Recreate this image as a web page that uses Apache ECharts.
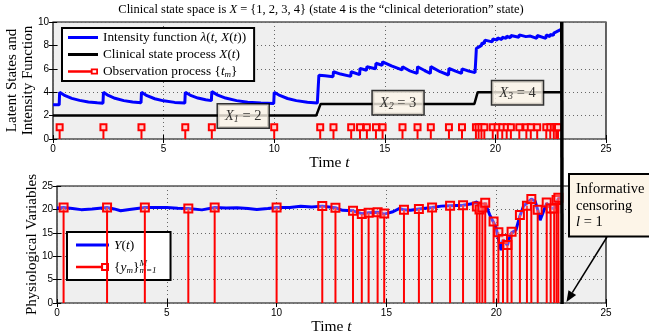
<!DOCTYPE html>
<html><head><meta charset="utf-8">
<script src="https://cdn.jsdelivr.net/npm/echarts@6/dist/echarts.min.js"></script>
<style>html,body{margin:0;padding:0;background:#fff}#c{width:649px;height:336px}</style>
</head><body><div id="c"></div>
<script>
// ---------------- data ----------------
const obsTimes = [0.3, 2.28, 4.0, 5.98, 7.18, 10.0, 12.08, 12.68, 13.48, 13.88, 14.19, 14.6, 14.9, 15.8, 16.48, 17.08, 17.9, 18.49, 19.12, 19.24, 19.37, 19.5, 19.88, 20.1, 20.31, 20.51, 20.7, 21.08, 21.4, 21.6, 21.89, 22.3, 22.48, 22.64, 22.75, 22.83];
const obsValues = [20.4, 20.4, 20.4, 20.2, 20.4, 20.4, 20.7, 20.35, 19.7, 19.0, 19.3, 19.4, 19.1, 19.9, 20.1, 20.4, 20.8, 20.9, 20.6, 20.0, 20.4, 21.4, 17.4, 15.1, 13.7, 12.4, 15.2, 18.8, 20.8, 22.2, 19.9, 21.5, 20.2, 20.2, 22.0, 22.5];
const obsMarkLevel = 1;

const intensityPoints = [
  [0,2.92],[0.28,2.92],[0.3,4.0],[0.55,3.7],[0.85,3.47],[1.2,3.3],[1.6,3.17],[2.0,3.09],[2.26,3.05],
  [2.28,4.0],[2.5,3.72],[2.8,3.48],[3.2,3.28],[3.6,3.16],[3.98,3.1],
  [4.0,4.0],[4.25,3.7],[4.6,3.44],[5.0,3.26],[5.5,3.13],[5.96,3.07],
  [5.98,4.0],[6.25,3.7],[6.55,3.5],[6.9,3.35],[7.16,3.28],
  [7.18,4.05],[7.45,3.75],[7.8,3.5],[8.3,3.28],[8.8,3.15],[9.4,3.07],[9.98,3.03],
  [10.0,4.0],[10.25,3.72],[10.6,3.46],[11.0,3.28],[11.5,3.14],[11.95,3.07],
  [12.02,5.45],[12.3,5.4],[12.66,5.33],[12.68,5.75],[13.0,5.55],[13.46,5.35],[13.48,5.75],[13.86,5.5],
  [13.88,6.04],[14.17,5.88],[14.19,6.18],[14.58,6.0],[14.6,6.47],[14.88,6.3],[14.9,6.6],[15.3,6.25],
  [15.78,5.9],[15.8,6.18],[16.1,5.85],[16.46,5.61],[16.48,6.18],[16.8,5.85],[17.06,5.61],[17.08,6.18],
  [17.5,5.75],[17.88,5.47],[17.9,6.04],[18.2,5.8],[18.47,5.61],[18.49,6.0],[18.8,5.8],[19.08,5.67],
  [19.14,7.75],[19.24,7.85],[19.26,8.0],[19.37,8.0],[19.39,8.2],[19.5,8.15],[19.52,8.45],[19.86,8.3],
  [19.88,8.55],[20.08,8.45],[20.1,8.65],[20.29,8.5],[20.31,8.7],[20.49,8.6],[20.51,8.8],[20.68,8.65],
  [20.7,8.85],[21.06,8.7],[21.08,8.9],[21.38,8.75],[21.4,8.9],[21.58,8.8],[21.6,8.92],[21.87,8.6],
  [21.89,8.85],[22.28,8.6],[22.3,8.9],[22.46,8.75],[22.48,8.95],[22.62,8.85],[22.64,9.05],[22.73,9.0],
  [22.75,9.15],[22.81,9.15],[22.83,9.3],[22.95,9.35]
];

const statePoints = [[0,2],[11.9,2],[12.1,3],[19.05,3],[19.2,4],[23,4]];

const physioPoints = [
  [0,20.3],[0.3,20.4],[0.7,20.2],[1.1,19.95],[1.6,20.1],[2.28,20.4],[2.6,20.1],[2.9,19.7],[3.3,20.0],
  [4.0,20.4],[4.3,20.4],[5.0,20.4],[5.5,20.25],[5.98,20.2],[6.6,19.9],[7.18,20.4],[7.7,20.3],[8.2,20.35],
  [8.7,20.2],[9.1,20.0],[9.6,20.2],[10.0,20.4],[10.6,20.4],[11.1,20.65],[11.6,20.5],[12.08,20.7],
  [12.68,20.35],[13.0,19.8],[13.48,19.7],[13.88,19.1],[14.19,19.3],[14.6,19.4],[14.9,19.0],[15.3,19.5],
  [15.6,20.2],[15.8,19.9],[16.1,19.8],[16.48,20.1],[17.08,20.4],[17.5,20.7],[17.9,20.8],[18.49,20.9],
  [18.9,21.2],[19.12,21.6],[19.24,20.3],[19.37,20.4],[19.5,21.3],[19.7,18.9],[19.88,17.2],[20.0,16.0],
  [20.15,12.5],[20.22,11.3],[20.31,13.5],[20.42,13.0],[20.51,12.3],[20.6,13.8],[20.7,15.0],[20.9,15.6],
  [21.08,18.6],[21.25,20.8],[21.4,21.3],[21.6,22.2],[21.77,21.8],[21.89,19.9],[22.0,17.7],[22.18,19.9],
  [22.3,21.3],[22.48,20.3],[22.64,20.2],[22.75,21.6],[22.83,22.3],[22.92,22.6]
];

const censorTime = 23;
const stateLabelT = [8.6, 15.6, 21.0];
const stateLabelV = [1.97, 3.1, 3.95];
const stateLabelSub = ['1', '2', '3'];
const stateLabelNum = ['2', '3', '4'];

const xTicks = [0, 5, 10, 15, 20, 25];
const yTicksTop = [0, 2, 4, 6, 8, 10];
const yTicksBottom = [0, 5, 10, 15, 20, 25];

// ---------------- styles ----------------
const SERIF = '"Liberation Serif", "DejaVu Serif", serif';
const SANS = '"Liberation Sans", Arial, sans-serif';
function richSet(size, lh) {
  return {
    i: {fontFamily: SERIF, fontStyle: 'italic', fontSize: size, color: '#000', lineHeight: lh},
    n: {fontFamily: SERIF, fontSize: size, color: '#000', lineHeight: lh},
    s: {fontFamily: SERIF, fontStyle: 'italic', fontSize: Math.round(size * 0.7), color: '#000', verticalAlign: 'bottom', lineHeight: Math.round(size * 0.7) + 1},
    sp: {fontFamily: SERIF, fontStyle: 'italic', fontSize: Math.round(size * 0.65), color: '#000', verticalAlign: 'top', lineHeight: Math.round(size * 0.65) + 1, width: 0},
    sb: {fontFamily: SERIF, fontStyle: 'italic', fontSize: Math.round(size * 0.65), color: '#000', verticalAlign: 'bottom', lineHeight: Math.round(size * 0.65) + 1}
  };
}

function stemRender(size, fill) {
  return function (params, api) {
    const t = api.value(0), v = api.value(1);
    const p0 = api.coord([t, 0]);
    const p1 = api.coord([t, v]);
    return {
      type: 'group',
      children: [
        {type: 'line', shape: {x1: p0[0], y1: p0[1], x2: p1[0], y2: p1[1]}, style: {stroke: '#ff0000', lineWidth: 2}},
        {type: 'rect', shape: {x: p1[0] - size / 2, y: p1[1] - size / 2, width: size, height: size}, style: {stroke: '#ff0000', lineWidth: 2, fill: fill}}
      ]
    };
  };
}

function mainX(grid) {
  return {
    gridIndex: grid, type: 'value', min: 0, max: 25, interval: 5, position: 'bottom',
    axisLine: {show: false},
    axisTick: {show: true, inside: true, length: 4, lineStyle: {color: '#000'}},
    axisLabel: {fontFamily: SANS, fontSize: 10, color: '#000', margin: 5,
      formatter: v => xTicks.includes(v) ? String(v) : ''},
    splitLine: {show: true, lineStyle: {color: '#666', type: [1, 3], width: 1}},
    name: 'Time {i|t}', nameLocation: 'middle', nameGap: 14,
    nameTextStyle: {fontFamily: SERIF, fontSize: 15.5, color: '#000', rich: richSet(15.5, 17)}
  };
}
function sideX(grid) {
  return {gridIndex: grid, type: 'value', min: 0, max: 25, interval: 5, position: 'top',
    axisLine: {show: false}, axisLabel: {show: false}, splitLine: {show: false},
    axisTick: {show: true, inside: true, length: 4, lineStyle: {color: '#000'}}};
}
function mainY(grid, max, interval, ticks, name, gap) {
  return {
    gridIndex: grid, type: 'value', min: 0, max: max, interval: interval, position: 'left',
    axisLine: {show: false},
    axisTick: {show: true, inside: true, length: 4, lineStyle: {color: '#000'}},
    axisLabel: {fontFamily: SANS, fontSize: 10, color: '#000', margin: 4,
      formatter: v => ticks.includes(v) ? String(v) : ''},
    splitLine: {show: true, lineStyle: {color: '#666', type: [1, 3], width: 1}},
    name: name, nameLocation: 'middle', nameRotate: 90, nameGap: gap, nameMoveOverlap: false,
    nameTextStyle: {fontFamily: SERIF, fontSize: 15, color: '#000', lineHeight: 16}
  };
}
function sideY(grid, max, interval) {
  return {gridIndex: grid, type: 'value', min: 0, max: max, interval: interval, position: 'right',
    axisLine: {show: false}, axisLabel: {show: false}, splitLine: {show: false},
    axisTick: {show: true, inside: true, length: 4, lineStyle: {color: '#000'}}};
}

const legendLabels = {
  'Intensity function': 'Intensity function {i|λ}({i|t}, {i|X}({i|t}))',
  'Clinical state process': 'Clinical state process {i|X}({i|t})',
  'Observation process': 'Observation process {{i|t}{s|m}}',
  'Y(t)': '{i|Y}({i|t})',
  'y_m': '{{i|y}{s|m}}{sp|M}{sb|m=1}'
};

const chart = echarts.init(document.getElementById('c'));
chart.setOption({
  animation: false,
  grid: [
    {left: 53, top: 22, width: 553, height: 117, show: true, backgroundColor: '#efefef', borderColor: '#000', borderWidth: 1.2, containLabel: false, outerBoundsMode: 'none'},
    {left: 57, top: 186, width: 549, height: 117, show: true, backgroundColor: '#efefef', borderColor: '#000', borderWidth: 1.2, containLabel: false, outerBoundsMode: 'none'}
  ],
  xAxis: [mainX(0), mainX(1), sideX(0), sideX(1)],
  yAxis: [
    mainY(0, 10, 2, yTicksTop, 'Latent States and\nIntensity Function', 17),
    mainY(1, 25, 5, yTicksBottom, 'Physiological Variables', 17),
    sideY(0, 10, 2), sideY(1, 25, 5)
  ],
  legend: [
    {
      orient: 'vertical', left: 62, top: 28, selectedMode: false,
      data: [
        {name: 'Intensity function', icon: 'path://M0,0H30V3H0Z'},
        {name: 'Clinical state process', icon: 'path://M0,0H30V3H0Z'},
        {name: 'Observation process', icon: 'path://M0,4H20V6H0Z M19,2.5H25V7.5H19Z M20.5,4V6H23.5V4Z'}
      ],
      itemWidth: 30, itemHeight: 12, itemGap: 2, padding: [2, 8, 2, 6],
      backgroundColor: '#fff', borderColor: '#000', borderWidth: 2,
      itemStyle: {borderWidth: 0},
      textStyle: {fontFamily: SERIF, fontSize: 13.3, color: '#000', lineHeight: 15, rich: richSet(13.3, 15)},
      formatter: n => legendLabels[n]
    },
    {
      orient: 'vertical', left: 67, top: 232, selectedMode: false,
      data: [
        {name: 'Y(t)', icon: 'path://M0,0H33V3H0Z'},
        {name: 'y_m', icon: 'path://M0,5H23V7H0Z M22,2.5H29V9.5H22Z M23.8,4.3V7.7H27.2V4.3Z'}
      ],
      itemWidth: 33, itemHeight: 12, itemGap: 6, padding: [5, 14, 5, 9],
      backgroundColor: '#fff', borderColor: '#000', borderWidth: 2,
      itemStyle: {borderWidth: 0},
      textStyle: {fontFamily: SERIF, fontSize: 13.5, color: '#000', lineHeight: 16, rich: richSet(13.5, 16)},
      formatter: n => legendLabels[n]
    }
  ],
  series: [
    {name: 'Clinical state process', type: 'line', xAxisIndex: 0, yAxisIndex: 0, data: statePoints,
      showSymbol: false, symbol: 'none', color: '#000', lineStyle: {color: '#000', width: 2.5}, z: 3},
    {name: 'Intensity function', type: 'line', xAxisIndex: 0, yAxisIndex: 0, data: intensityPoints,
      showSymbol: false, symbol: 'none', color: '#0000ff', lineStyle: {color: '#0000ff', width: 3}, z: 4},
    {name: 'Observation process', type: 'custom', xAxisIndex: 0, yAxisIndex: 0,
      data: obsTimes.map(t => [t, obsMarkLevel]), encode: {x: 0, y: 1},
      renderItem: stemRender(6, '#ffd0d0'), itemStyle: {color: '#ff0000'}, z: 5},
    {name: 'stateLabels', type: 'scatter', xAxisIndex: 0, yAxisIndex: 0, silent: true, z: 8,
      symbolSize: 1, itemStyle: {color: 'transparent'},
      data: stateLabelT.map((t, i) => [t, stateLabelV[i]]),
      label: {show: true, position: 'inside',
        formatter: p => '{i|X}{s|' + stateLabelSub[p.dataIndex] + '}{n| = ' + stateLabelNum[p.dataIndex] + '}',
        backgroundColor: '#fdf5e8', borderColor: '#000', borderWidth: 1.5, padding: [4, 7, 3, 7],
        rich: richSet(14.5, 16)}},
    {name: 'Y(t)', type: 'line', xAxisIndex: 1, yAxisIndex: 1, data: physioPoints,
      showSymbol: false, symbol: 'none', color: '#0000ff', lineStyle: {color: '#0000ff', width: 3}, z: 3},
    {name: 'y_m', type: 'custom', xAxisIndex: 1, yAxisIndex: 1,
      data: obsTimes.map((t, i) => [t, obsValues[i]]), encode: {x: 0, y: 1},
      renderItem: stemRender(8, 'rgba(255,210,210,0.35)'), itemStyle: {color: '#ff0000'}, z: 5}
  ]
});

// ---------------- annotations ----------------
const pTop = chart.convertToPixel({xAxisIndex: 0, yAxisIndex: 0}, [censorTime, 10]);
const pBot = chart.convertToPixel({xAxisIndex: 1, yAxisIndex: 1}, [censorTime, 0]);
const tip = chart.convertToPixel({xAxisIndex: 1, yAxisIndex: 1}, [censorTime + 0.2, 0.2]);
const start = [607, 237];
const dx = tip[0] - start[0], dy = tip[1] - start[1];
const len = Math.sqrt(dx * dx + dy * dy);
const ux = dx / len, uy = dy / len;
const headL = 11, headW = 4.5;
const base = [tip[0] - ux * headL, tip[1] - uy * headL];
chart.setOption({
  graphic: [
    {type: 'text', x: 321, y: 10, z: 100, style: {
      text: 'Clinical state space is {i|X} = {1, 2, 3, 4} (state 4 is the \u201cclinical deterioration\u201d state)',
      fontFamily: SERIF, fontSize: 12.5, fill: '#000', align: 'center', verticalAlign: 'middle',
      rich: {i: {fontFamily: SERIF, fontStyle: 'italic', fontSize: 12.5, color: '#000'}}}},
    {type: 'line', z: 90, shape: {x1: pTop[0], y1: pTop[1], x2: pBot[0], y2: pBot[1] + 1},
      style: {stroke: '#000', lineWidth: 3.5}},
    {type: 'line', z: 95, shape: {x1: start[0], y1: start[1], x2: base[0], y2: base[1]},
      style: {stroke: '#000', lineWidth: 1.5}},
    {type: 'polygon', z: 95, shape: {points: [tip,
      [base[0] - uy * headW, base[1] + ux * headW], [base[0] + uy * headW, base[1] - ux * headW]]},
      style: {fill: '#000'}},
    {type: 'text', x: 570, y: 175, z: 100, style: {
      text: 'Informative\ncensoring\n{i|l} = 1',
      fontFamily: SERIF, fontSize: 14.5, fill: '#000', lineHeight: 16.5,
      backgroundColor: '#fdf5e8', borderColor: '#000', borderWidth: 2, padding: [6, 20, 5, 6],
      rich: {i: {fontFamily: SERIF, fontStyle: 'italic', fontSize: 14.5, lineHeight: 16.5, color: '#000'}}}}
  ]
});
</script>
</body></html>
